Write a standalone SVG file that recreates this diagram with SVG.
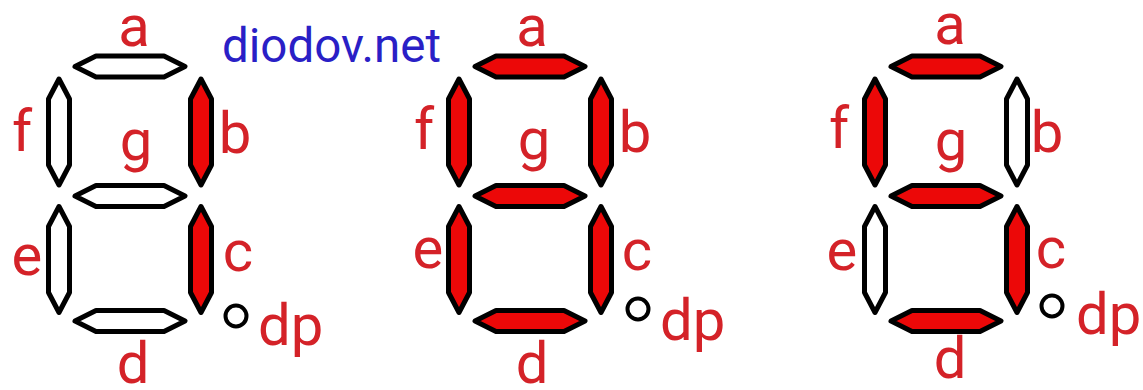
<svg xmlns="http://www.w3.org/2000/svg" width="1143" height="390" viewBox="0 0 1143 390">
  <style>
    .seg { stroke: #000; stroke-width: 5; stroke-linejoin: round; fill: #ffffff; }
    .on { fill: #ec0808; }
    .lbl { font-family: Roboto, "Liberation Sans", sans-serif; font-size: 58px; fill: #d42228; text-anchor: middle; }
    .dp { fill: none; stroke: #000; stroke-width: 4; }
    .brand { font-family: Roboto, "Liberation Sans", sans-serif; font-size: 47.5px; fill: #2a1fc6; }
  </style>
  <defs>
    <polygon id="hseg" points="-55,0 -34,-10.5 34,-10.5 55,0 34,10.5 -34,10.5"/>
    <polygon id="vseg" points="0,-53 10.5,-33 10.5,33 0,53 -10.5,33 -10.5,-33"/>
  </defs>
  <rect width="1143" height="390" fill="#ffffff"/>

  <g id="digit1">
    <g id="d1-a"><use href="#hseg" class="seg" x="130" y="66.5"/><text class="lbl" x="134" y="46">a</text></g>
    <g id="d1-b"><use href="#vseg" class="seg on" x="201" y="132"/><text class="lbl" x="235" y="153">b</text></g>
    <g id="d1-c"><use href="#vseg" class="seg on" x="201" y="259.5"/><text class="lbl" x="238" y="271">c</text></g>
    <g id="d1-d"><use href="#hseg" class="seg" x="130" y="321"/><text class="lbl" x="133" y="383">d</text></g>
    <g id="d1-e"><use href="#vseg" class="seg" x="59" y="259.5"/><text class="lbl" x="27" y="275">e</text></g>
    <g id="d1-f"><use href="#vseg" class="seg" x="59" y="132"/><text class="lbl" x="22" y="151">f</text></g>
    <g id="d1-g"><use href="#hseg" class="seg" x="130" y="196"/><text class="lbl" x="136" y="160">g</text></g>
    <g id="d1-dp"><circle class="dp" cx="236" cy="316" r="10.5"/><text class="lbl" x="258" y="345" style="text-anchor:start">dp</text></g>
  </g>

  <g id="brand"><text class="brand" x="222" y="62">diodov.net</text></g>

  <g id="digit2" transform="translate(400,0)">
    <g id="d2-a"><use href="#hseg" class="seg on" x="130" y="66.5"/><text class="lbl" x="132" y="46">a</text></g>
    <g id="d2-b"><use href="#vseg" class="seg on" x="201" y="132"/><text class="lbl" x="235" y="152">b</text></g>
    <g id="d2-c"><use href="#vseg" class="seg on" x="201" y="259.5"/><text class="lbl" x="237" y="270">c</text></g>
    <g id="d2-d"><use href="#hseg" class="seg on" x="130" y="321"/><text class="lbl" x="132" y="383">d</text></g>
    <g id="d2-e"><use href="#vseg" class="seg on" x="59" y="259.5"/><text class="lbl" x="28" y="268">e</text></g>
    <g id="d2-f"><use href="#vseg" class="seg on" x="59" y="132"/><text class="lbl" x="24" y="149">f</text></g>
    <g id="d2-g"><use href="#hseg" class="seg on" x="130" y="196"/><text class="lbl" x="134" y="159">g</text></g>
    <g id="d2-dp"><circle class="dp" cx="238" cy="309" r="10.5"/><text class="lbl" x="260" y="340" style="text-anchor:start">dp</text></g>
  </g>

  <g id="digit3" transform="translate(816,0)">
    <g id="d3-a"><use href="#hseg" class="seg on" x="130" y="66.5"/><text class="lbl" x="134" y="44">a</text></g>
    <g id="d3-b"><use href="#vseg" class="seg" x="201" y="132"/><text class="lbl" x="231" y="152">b</text></g>
    <g id="d3-c"><use href="#vseg" class="seg on" x="201" y="259.5"/><text class="lbl" x="235" y="268">c</text></g>
    <g id="d3-d"><use href="#hseg" class="seg on" x="130" y="321"/><text class="lbl" x="134" y="378">d</text></g>
    <g id="d3-e"><use href="#vseg" class="seg" x="59" y="259.5"/><text class="lbl" x="26" y="270">e</text></g>
    <g id="d3-f"><use href="#vseg" class="seg on" x="59" y="132"/><text class="lbl" x="23" y="148">f</text></g>
    <g id="d3-g"><use href="#hseg" class="seg on" x="130" y="196"/><text class="lbl" x="135" y="160">g</text></g>
    <g id="d3-dp"><circle class="dp" cx="236" cy="306" r="10.5"/><text class="lbl" x="260" y="334" style="text-anchor:start">dp</text></g>
  </g>
</svg>
